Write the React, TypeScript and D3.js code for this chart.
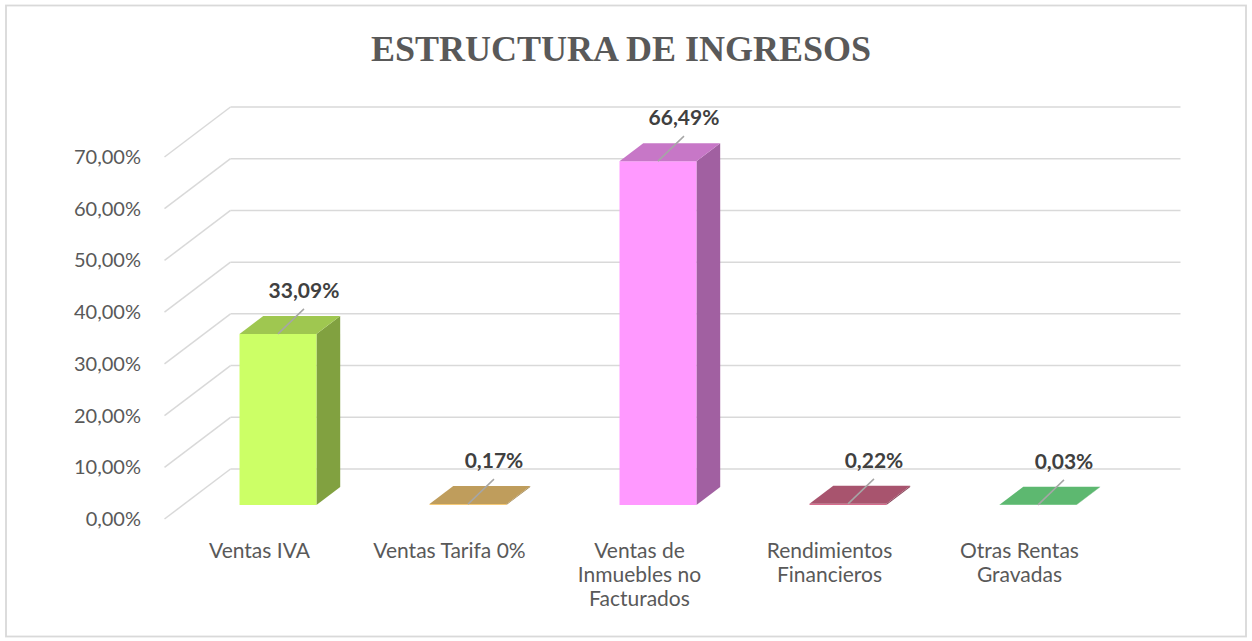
import React from "react";
import * as d3 from "d3";

const categories: string[][] = [
  ["Ventas IVA"],
  ["Ventas Tarifa 0%"],
  ["Ventas de", "Inmuebles no", "Facturados"],
  ["Rendimientos", "Financieros"],
  ["Otras Rentas", "Gravadas"],
];
const values: number[] = [33.09, 0.17, 66.49, 0.22, 0.03];
const valueLabels: string[] = ["33,09%", "0,17%", "66,49%", "0,22%", "0,03%"];
const barColors: string[] = ["#CCFF66", "#F5C976", "#FF99FF", "#D76C8D", "#77EC90"];
const yTicks: number[] = [0, 10, 20, 30, 40, 50, 60, 70];
const yTickLabels: string[] = ["0,00%", "10,00%", "20,00%", "30,00%", "40,00%", "50,00%", "60,00%", "70,00%"];
const title = "ESTRUCTURA DE INGRESOS";

const W = 1252;
const H = 641;
const x0 = 164.5;
const plotW = 950;
const depthX = 66;
const depthY = -50;
const barT0 = 0.28;
const barT1 = 0.64;

export default function App() {
  const x = d3
    .scaleBand<number>()
    .domain(d3.range(categories.length))
    .range([x0, x0 + plotW])
    .paddingInner(0)
    .paddingOuter(0);
  const y = d3.scaleLinear().domain([0, 70]).range([519, 157]);
  const band = x.bandwidth();
  const barW = band * 0.405;

  const pt = (px: number, py: number, t: number) => [px + depthX * t, py + depthY * t];
  const poly = (pts: number[][]) => pts.map((p) => p.join(",")).join(" ");

  return (
    <svg
      width={W}
      height={H}
      style={{ position: "absolute", left: 0, top: 0, background: "#fff" }}
    >
      <rect x={6} y={5.5} width={1240} height={631} fill="#fff" stroke="#D9D9D9" strokeWidth={1.8} />
      <text
        x={621}
        y={61}
        textAnchor="middle"
        fontFamily="'Liberation Serif', 'Times New Roman', serif"
        fontWeight="bold"
        fontSize={36}
        fill="#595959"
      >
        {title}
      </text>
      {/* grid */}
      {yTicks.map((v) => {
        const [fx, fy] = [x0, y(v)];
        const [bx, by] = pt(fx, fy, 1);
        return (
          <g key={v}>
            <line x1={fx} y1={fy} x2={bx} y2={by} stroke="#D9D9D9" strokeWidth={1.5} />
            <line x1={bx} y1={by} x2={bx + plotW} y2={by} stroke="#D9D9D9" strokeWidth={1.5} />
          </g>
        );
      })}
      {/* y labels */}
      {yTicks.map((v, i) => (
        <text
          key={"yl" + v}
          x={141}
          y={y(v) + 7}
          textAnchor="end"
          fontFamily="Lato, 'Noto Sans', sans-serif"
          fontSize={20}
          fill="#595959"
        >
          {yTickLabels[i]}
        </text>
      ))}
      {/* bars */}
      {values.map((v, i) => {
        const cx = (x(i) as number) + band / 2;
        const l = cx - barW / 2;
        const r = cx + barW / 2;
        const yb = y(0);
        const yt = y(v);
        const front = d3.rgb(barColors[i]);
        const top = d3.rgb(front.r * 0.78, front.g * 0.78, front.b * 0.78).toString();
        const side = d3.rgb(front.r * 0.63, front.g * 0.63, front.b * 0.63).toString();
        const fbl = pt(l, yb, barT0);
        const fbr = pt(r, yb, barT0);
        const ftl = pt(l, yt, barT0);
        const ftr = pt(r, yt, barT0);
        const bbr = pt(r, yb, barT1);
        const btl = pt(l, yt, barT1);
        const btr = pt(r, yt, barT1);
        const fc = pt(cx, yt, barT0);
        const lx2 = fc[0] + 26;
        const ly2 = fc[1] - 25;
        return (
          <g key={"b" + i}>
            <polygon points={poly([fbr, bbr, btr, ftr])} fill={side} />
            <polygon points={poly([fbl, fbr, ftr, ftl])} fill={barColors[i]} />
            <polygon points={poly([ftl, ftr, btr, btl])} fill={top} />
            <line x1={fc[0]} y1={fc[1]} x2={lx2} y2={ly2} stroke="#A6A6A6" strokeWidth={1.5} />
            <text
              x={lx2}
              y={ly2 - 11}
              textAnchor="middle"
              fontFamily="Lato, 'Noto Sans', sans-serif"
              fontWeight="bold"
              fontSize={21}
              fill="#404040"
            >
              {valueLabels[i]}
            </text>
          </g>
        );
      })}
      {/* x labels */}
      {categories.map((lines, i) => {
        const cx = (x(i) as number) + band / 2;
        return (
          <text
            key={"xl" + i}
            textAnchor="middle"
            fontFamily="Lato, 'Noto Sans', sans-serif"
            fontSize={21}
            fill="#595959"
          >
            {lines.map((ln, j) => (
              <tspan key={j} x={cx} y={558 + j * 24}>
                {ln}
              </tspan>
            ))}
          </text>
        );
      })}
    </svg>
  );
}
